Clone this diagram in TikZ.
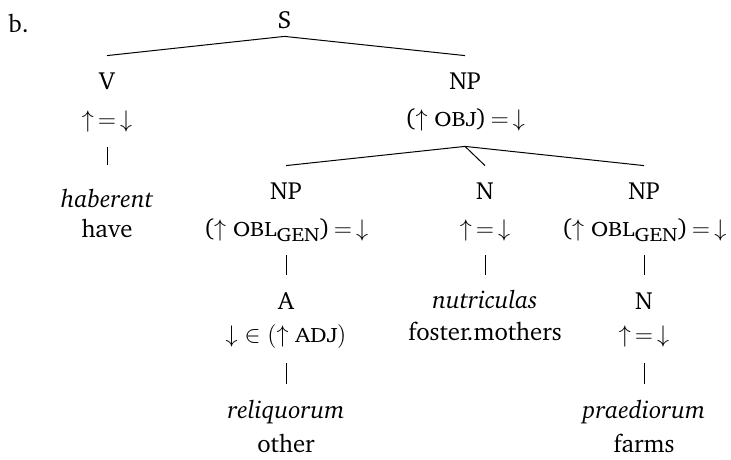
\documentclass[tikz,border=0pt]{standalone}
\IfFileExists{t1bch.fd}{%
  \usepackage[T1]{fontenc}\renewcommand{\rmdefault}{bch}}{%
  \usepackage{fontspec}\setmainfont{Liberation Serif}}
\usepackage{graphicx}
\usepackage{tikz}
\usetikzlibrary{calc}
\tikzstyle{lbl}=[inner sep=0pt, anchor=base, text height=9pt, text depth=3pt, font=\fontsize{12.4}{15}\selectfont]
\tikzstyle{branch}=[draw, line width=0.5pt]
\newcommand{\fsc}[1]{\scalebox{1.13}[1]{\fontsize{10.4}{10}\selectfont #1}}
\newcommand{\eqsign}{\mkern3mu{=}\mkern3mu}
\newcommand{\eqd}{${\uparrow}\eqsign{\downarrow}$}
\newcommand{\oblgen}{($\uparrow$ \fsc{OBL}\raisebox{-2.5pt}{\scalebox{1.13}[1]{\fontsize{9.6}{9}\selectfont GEN}})$\eqsign{\downarrow}$}

\begin{document}
\begin{tikzpicture}[x=0.5pt, y=-0.5pt]
  \useasboundingbox (0,0) rectangle (731,459);
  \def\colv{107}
  \def\colnp{465}
  \def\cola{286}
  \def\coln{485}
  \def\colb{644}

  % example label
  \node[lbl, anchor=base west] (ex) at (8,33) {b.};

  % top level
  \node[lbl] (s) at (284.5,29) {S};
  \node[lbl] (v) at (\colv,90) {V};
  \node[lbl] (vann) at (\colv,128) {\eqd};
  \node[lbl] (np) at (\colnp,90) {NP};
  \node[lbl] (npann) at (\colnp,127) {($\uparrow$ \fsc{OBJ})$\eqsign{\downarrow}$};

  % verb
  \node[lbl] (haberent) at (\colv,208) {\textit{haberent}};
  \node[lbl] (have) at (\colv,237) {have};

  % daughters of the object
  \node[lbl] (npa) at (\cola,200) {NP};
  \node[lbl] (npaann) at (\cola,236) {\oblgen};
  \node[lbl] (na) at (\coln,200) {N};
  \node[lbl] (naann) at (\coln,236) {\eqd};
  \node[lbl] (npb) at (\colb,200) {NP};
  \node[lbl] (npbann) at (\colb,236) {\oblgen};

  % third level
  \node[lbl] (adj) at (\cola,309) {A};
  \node[lbl] (adjann) at (\cola,342) {$\downarrow$ $\in$ $(\uparrow$ \fsc{ADJ}$)$};
  \node[lbl] (nutriculas) at (\coln,308) {\textit{nutriculas}};
  \node[lbl] (fostermothers) at (\coln,340) {foster.mothers};
  \node[lbl] (nb) at (\colb,309) {N};
  \node[lbl] (nbann) at (\colb,342) {\eqd};

  % words
  \node[lbl] (reliquorum) at (\cola,418) {\textit{reliquorum}};
  \node[lbl] (other) at (\cola,452) {other};
  \node[lbl] (praediorum) at (\colb,418) {\textit{praediorum}};
  \node[lbl] (farms) at (\colb,452) {farms};

  % branches
  \draw[branch] ([yshift=8pt]v.north) -- ([yshift=-0.5pt]s.south) -- ([yshift=8pt]np.north);
  \draw[branch] ([yshift=-6.5pt]vann.south) -- ([yshift=12.5pt]haberent.north);
  \draw[branch] ([yshift=8pt]npa.north) -- ([yshift=-6.5pt]npann.south) -- ([yshift=8pt]npb.north);
  \draw[branch] ([yshift=-6.5pt]npann.south) -- ([yshift=8pt]na.north);
  \draw[branch] ([yshift=-6.5pt]npaann.south) -- ([yshift=8pt]adj.north);
  \draw[branch] ([yshift=-6.5pt]naann.south) -- ([yshift=7.5pt]nutriculas.north);
  \draw[branch] ([yshift=-6.5pt]npbann.south) -- ([yshift=8pt]nb.north);
  \draw[branch] ([yshift=-7.5pt]adjann.south) -- ([yshift=8pt]reliquorum.north);
  \draw[branch] ([yshift=-7.5pt]nbann.south) -- ([yshift=8pt]praediorum.north);
\end{tikzpicture}
\end{document}
